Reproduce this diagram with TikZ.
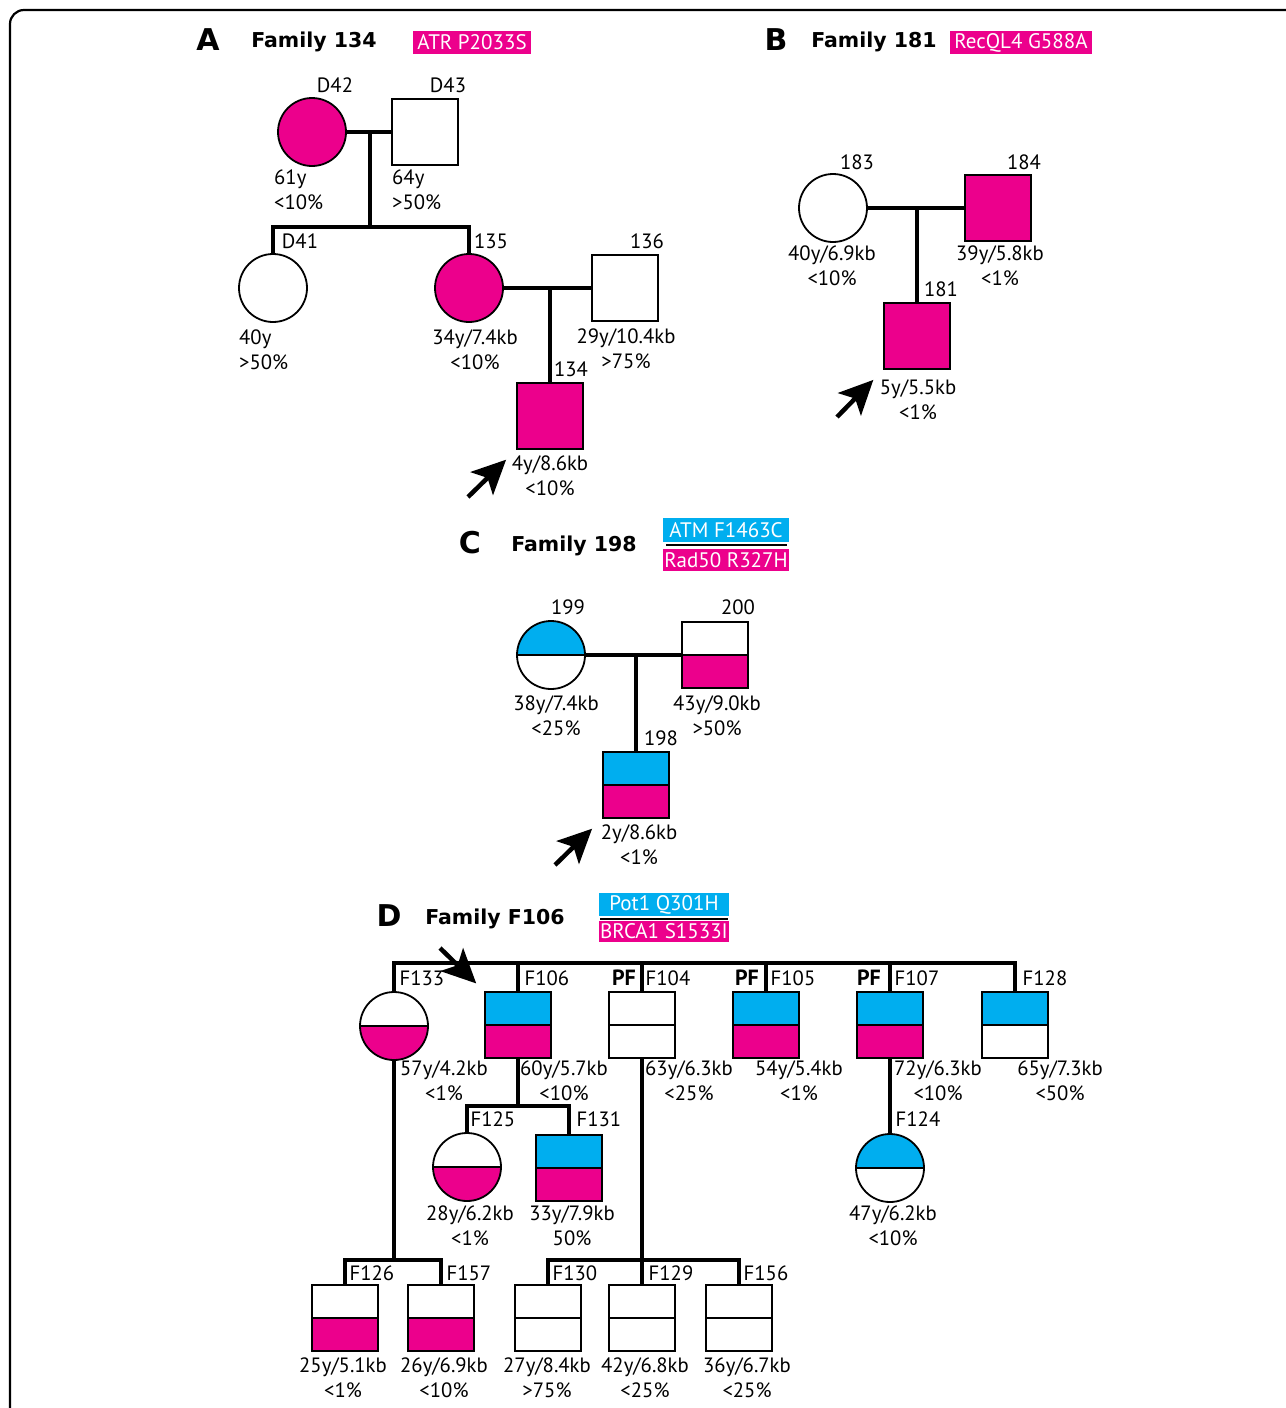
\documentclass[tikz,border=0pt]{standalone}
\usepackage{fontspec}
\setmainfont{PT Sans}
\newfontfamily\headfont{DejaVu Sans}
\usetikzlibrary{arrows.meta}
\definecolor{mag}{HTML}{EC008C}
\definecolor{cyn}{HTML}{00AEEF}
\tikzset{
    ind/.style = {draw=black, line width=1.8pt, inner sep=0pt, minimum size=66pt},
    male/.style = {ind, rectangle},
    female/.style = {ind, circle, minimum size=68pt},
    split/.style 2 args = {path picture={
        \fill[#1] (path picture bounding box.north west) rectangle (path picture bounding box.east);
        \fill[#2] (path picture bounding box.west) rectangle (path picture bounding box.south east);
        \draw[line width=1.8pt] (path picture bounding box.west) -- (path picture bounding box.east);}},
    idlbl/.style = {inner sep=0pt, font=\fontsize{20.7}{25}\selectfont},
    info/.style = {idlbl, align=center},
    pf/.style = {inner sep=0pt, font=\fontsize{22}{24}\selectfont\bfseries},
    panel/.style = {inner sep=0pt, font=\headfont\bfseries\fontsize{30}{32}\selectfont},
    fam/.style = {inner sep=0pt, font=\headfont\bfseries\fontsize{20.5}{24}\selectfont},
    tag/.style = {inner sep=0pt, text=white, minimum height=23pt, font=\fontsize{21}{23}\selectfont},
    edgen/.style = {line width=3.5pt},
    proband/.style = {line width=4.5pt, -{Stealth[length=34pt,width=32pt,inset=8pt]}},
}
\begin{document}
\begin{tikzpicture}[x=1pt, y=-1pt]
\useasboundingbox (0,0) rectangle (1285,1408);
\draw[line width=2.2pt, rounded corners=14pt] (1300,10) -- (10,10) -- (10,1420);

% A: Family 134
\node[panel] (pA) at (208,40) {A};
\node[fam] (fA) at (314,42) {Family 134};
\node[tag, fill=mag, minimum width=118pt] (tA) at (472,42.5) {ATR P2033S};

\node[female, fill=mag] (D42) at (312,132) {};
\node[male] (D43) at (425,132) {};
\node[female] (D41) at (273,288) {};
\node[female, fill=mag] (n135) at (469,288) {};
\node[male] (n136) at (625,288) {};
\node[male, fill=mag] (n134) at (550,416) {};

\node[idlbl] (lD42) at (335,85) {D42};
\node[idlbl] (lD43) at (448,85) {D43};
\node[idlbl] (lD41) at (300,241) {D41};
\node[idlbl] (l135) at (491,241) {135};
\node[idlbl] (l136) at (647,241) {136};
\node[idlbl] (l134) at (571,369) {134};

\node[info, anchor=west, align=left] (iD42) at (274,190) {61y\\<10\%};
\node[info, anchor=west, align=left] (iD43) at (392,190) {64y\\>50\%};
\node[info, anchor=west, align=left] (iD41) at (239,350) {40y\\>50\%};
\node[info] (i135) at (475,350) {34y/7.4kb\\<10\%};
\node[info] (i136) at (626,349) {29y/10.4kb\\>75\%};
\node[info] (i134) at (550,476) {4y/8.6kb\\<10\%};

\draw[edgen] (D42) -- (D43);
\coordinate (cA1) at (370,132);
\coordinate (cA2) at (370,227);
\draw[edgen] (cA1) -- (cA2);
\draw[edgen] (D41.north) |- (cA2) -| (n135.north);
\draw[edgen] (n135) -- (n136);
\draw[edgen] (n134.north |- n135.east) -- (n134.north);
\coordinate (aA) at (468,497);
\draw[proband, shorten >=14pt] (aA) -- (n134.south west);

% B: Family 181
\node[panel] (pB) at (776,40) {B};
\node[fam] (fB) at (874,42) {Family 181};
\node[tag, fill=mag, minimum width=142pt] (tB) at (1021,42.5) {RecQL4 G588A};

\node[female] (n183) at (833,208) {};
\node[male, fill=mag] (n184) at (998,208) {};
\node[male, fill=mag] (n181) at (917,336) {};

\node[idlbl] (l183) at (857,162) {183};
\node[idlbl] (l184) at (1024,162) {184};
\node[idlbl] (l181) at (941,289) {181};

\node[info] (i183) at (832,266) {40y/6.9kb\\<10\%};
\node[info] (i184) at (1000,266) {39y/5.8kb\\<1\%};
\node[info] (i181) at (918,400) {5y/5.5kb\\<1\%};

\draw[edgen] (n183) -- (n184);
\draw[edgen] (n181.north |- n183.east) -- (n181.north);
\coordinate (aB) at (837,417);
\draw[proband, shorten >=14pt] (aB) -- (n181.south west);

% C: Family 198
\node[panel] (pC) at (470,543) {C};
\node[fam] (fC) at (574,546) {Family 198};
\node[tag, fill=cyn, minimum width=126pt, minimum height=24pt] (tC1) at (726,530) {ATM F1463C};
\node[tag, fill=mag, minimum width=126pt, minimum height=22pt] (tC2) at (726,560) {Rad50 R327H};
\draw[line width=1.5pt] (666,545) -- (787,545);

\node[female, split={cyn}{white}] (n199) at (551,655) {};
\node[male, split={white}{mag}] (n200) at (715,655) {};
\node[male, split={cyn}{mag}] (n198) at (636,785) {};

\node[idlbl] (l199) at (568,607) {199};
\node[idlbl] (l200) at (738,607) {200};
\node[idlbl] (l198) at (661,738) {198};

\node[info] (i199) at (556,716) {38y/7.4kb\\<25\%};
\node[info] (i200) at (717,716) {43y/9.0kb\\>50\%};
\node[info] (i198) at (639,845) {2y/8.6kb\\<1\%};

\draw[edgen] (n199) -- (n200);
\draw[edgen] (n198.north |- n199.east) -- (n198.north);
\coordinate (aC) at (555,865);
\draw[proband, shorten >=14pt] (aC) -- (n198.south west);

% D: Family F106
\node[panel] (pD) at (389,916) {D};
\node[fam] (fD) at (495,919) {Family F106};
\node[tag, fill=cyn, minimum width=130pt] (tD1) at (664,904.5) {Pot1 Q301H};
\node[tag, fill=mag, minimum width=130pt, minimum height=21pt] (tD2) at (664,931.5) {BRCA1 S1533I};
\draw[line width=1.5pt] (600,919) -- (728,919);

\node[female, split={white}{mag}] (F133) at (394,1026) {};
\node[male, split={cyn}{mag}] (F106) at (518,1025) {};
\node[male, split={white}{white}] (F104) at (642,1025) {};
\node[male, split={cyn}{mag}] (F105) at (766,1025) {};
\node[male, split={cyn}{mag}] (F107) at (890,1025) {};
\node[male, split={cyn}{white}] (F128) at (1015,1025) {};
\node[female, split={white}{mag}] (F125) at (467,1167) {};
\node[male, split={cyn}{mag}] (F131) at (569,1168) {};
\node[female, split={cyn}{white}] (F124) at (890,1168) {};
\node[male, split={white}{mag}] (F126) at (345,1318) {};
\node[male, split={white}{mag}] (F157) at (441,1318) {};
\node[male, split={white}{white}] (F130) at (548,1318) {};
\node[male, split={white}{white}] (F129) at (642,1318) {};
\node[male, split={white}{white}] (F156) at (739,1318) {};

\node[idlbl] (lF133) at (422,978) {F133};
\node[idlbl] (lF106) at (547,978) {F106};
\node[pf] (pf104) at (624,978) {PF};
\node[idlbl] (lF104) at (668,978) {F104};
\node[pf] (pf105) at (747,978) {PF};
\node[idlbl] (lF105) at (793,978) {F105};
\node[pf] (pf107) at (869,978) {PF};
\node[idlbl] (lF107) at (917,978) {F107};
\node[idlbl] (lF128) at (1045,978) {F128};
\node[idlbl] (lF125) at (493,1119) {F125};
\node[idlbl] (lF131) at (599,1119) {F131};
\node[idlbl] (lF124) at (918,1119) {F124};
\node[idlbl] (lF126) at (372,1273) {F126};
\node[idlbl] (lF157) at (469,1273) {F157};
\node[idlbl] (lF130) at (575,1273) {F130};
\node[idlbl] (lF129) at (671,1273) {F129};
\node[idlbl] (lF156) at (766,1273) {F156};

\node[info] (iF133) at (444,1081) {57y/4.2kb\\<1\%};
\node[info] (iF106) at (564,1081) {60y/5.7kb\\<10\%};
\node[info] (iF104) at (689,1081) {63y/6.3kb\\<25\%};
\node[info] (iF105) at (799,1081) {54y/5.4kb\\<1\%};
\node[info] (iF107) at (938,1081) {72y/6.3kb\\<10\%};
\node[info] (iF128) at (1060,1081) {65y/7.3kb\\<50\%};
\node[info] (iF125) at (470,1226) {28y/6.2kb\\<1\%};
\node[info] (iF131) at (572,1226) {33y/7.9kb\\50\%};
\node[info] (iF124) at (893,1226) {47y/6.2kb\\<10\%};
\node[info] (iF126) at (343,1378) {25y/5.1kb\\<1\%};
\node[info] (iF157) at (444,1378) {26y/6.9kb\\<10\%};
\node[info] (iF130) at (547,1378) {27y/8.4kb\\>75\%};
\node[info] (iF129) at (645,1378) {42y/6.8kb\\<25\%};
\node[info] (iF156) at (747,1378) {36y/6.7kb\\<25\%};

\coordinate (bD) at (0,963);
\draw[edgen] (F133.north) |- (F128.north |- bD) -- (F128.north);
\foreach \n in {F106,F104,F105,F107}
  \draw[edgen] (\n.north) -- (\n.north |- bD);
\coordinate (jF106) at (518,1106);
\draw[edgen] (F106.south) -- (jF106);
\draw[edgen] (F125.north) |- (jF106) -| (F131.north);
\coordinate (jF133) at (394,1260);
\draw[edgen] (F133.south) -- (jF133);
\draw[edgen] (F126.north) |- (jF133) -| (F157.north);
\coordinate (jF104) at (642,1260);
\draw[edgen] (F104.south) -- (jF104);
\draw[edgen] (F130.north) |- (jF104) -| (F156.north);
\draw[edgen] (jF104) -- (F129.north);
\draw[edgen] (F107.south) -- (F124.north);
\coordinate (aD) at (440,948);
\draw[proband, shorten >=11pt] (aD) -- (F106.north west);

\end{tikzpicture}
\end{document}
